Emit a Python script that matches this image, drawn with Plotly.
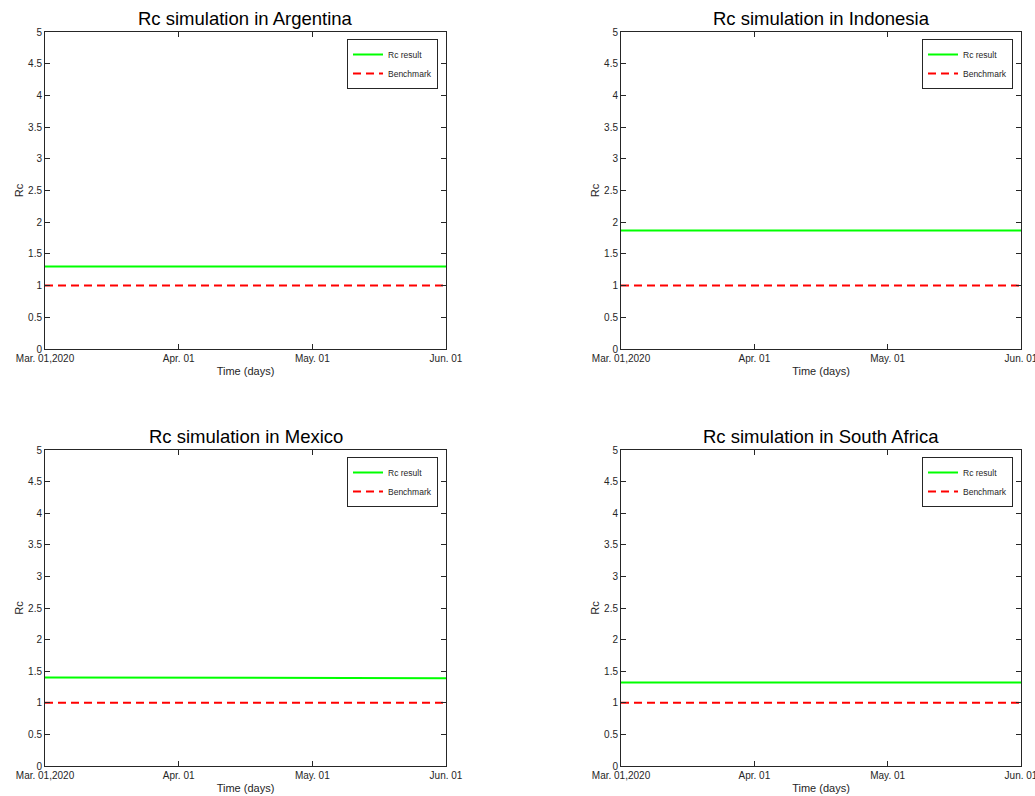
import plotly.graph_objects as go

countries = ["Argentina", "Indonesia", "Mexico", "South Africa"]
# day offsets from Mar. 01, 2020 (0 .. 92 = Jun. 01)
days = [0, 92]
rc_values = {
    "Argentina": [1.30, 1.30],
    "Indonesia": [1.87, 1.87],
    "Mexico": [1.40, 1.39],
    "South Africa": [1.32, 1.32],
}
benchmark = [1.0, 1.0]
x_tick_vals = [0, 30.67, 61.33, 92]
x_tick_text = ["Mar. 01,2020", "Apr. 01", "May. 01", "Jun. 01"]
y_tick_vals = [0, 0.5, 1, 1.5, 2, 2.5, 3, 3.5, 4, 4.5, 5]
y_tick_text = ["0", "0.5", "1", "1.5", "2", "2.5", "3", "3.5", "4", "4.5", "5"]

W, H = 1035, 796
panels = [
    (45, 446, 32, 349),
    (621, 1021, 32, 349),
    (45, 446, 450, 766),
    (621, 1021, 450, 766),
]

FONT = "Liberation Sans, Arial, Helvetica, sans-serif"
fig = go.Figure()
layout = dict(
    width=W, height=H, margin=dict(l=0, r=0, t=0, b=0, pad=0, autoexpand=False),
    paper_bgcolor="white", plot_bgcolor="white",
    font=dict(family=FONT, color="#262626"),
    annotations=[],
)

def px(v):
    return v / W

def py(v):
    return 1 - v / H

for i, c in enumerate(countries):
    x0, x1, y0, y1 = panels[i]
    n = "" if i == 0 else str(i + 1)
    leg = "legend" + n
    fig.add_trace(go.Scatter(
        x=days, y=rc_values[c], mode="lines", name="Rc result",
        line=dict(color="#00FF00", width=2),
        xaxis="x" + n, yaxis="y" + n, legend=leg,
    ))
    fig.add_trace(go.Scatter(
        x=days, y=benchmark, mode="lines", name="Benchmark",
        line=dict(color="#FF0000", width=2, dash="8px,5px"),
        xaxis="x" + n, yaxis="y" + n, legend=leg,
    ))
    axcommon = dict(
        showgrid=False, zeroline=False, showline=True, linecolor="#262626",
        linewidth=1, mirror="ticks", ticks="inside", ticklen=5,
        tickcolor="#262626", tickfont=dict(size=10, family=FONT, color="#262626"),
        automargin=False, ticklabeloverflow="allow",
    )
    layout["xaxis" + n] = dict(
        axcommon, domain=[px(x0), px(x1)], anchor="y" + n,
        range=[0, 92], tickmode="array", tickvals=x_tick_vals, ticktext=x_tick_text,
        title=dict(text="Time (days)", font=dict(size=11, family=FONT, color="#262626"), standoff=4),
    )
    layout["yaxis" + n] = dict(
        axcommon, domain=[py(y1), py(y0)], anchor="x" + n,
        range=[0, 5], tickmode="array", tickvals=y_tick_vals, ticktext=y_tick_text,
        title=dict(text="Rc", font=dict(size=11, family=FONT, color="#262626"), standoff=2),
    )
    layout[leg] = dict(
        x=px(x1 - 8), y=py(y0 + 7), xanchor="right", yanchor="top",
        bgcolor="white", bordercolor="#262626", borderwidth=1,
        font=dict(size=8.5, family=FONT, color="#262626"),
        itemwidth=30, tracegroupgap=0,
    )
    layout["annotations"].append(dict(
        text="Rc simulation in " + c, x=px((x0 + x1) / 2), y=py(y0 - 1),
        xref="paper", yref="paper", xanchor="center", yanchor="bottom",
        showarrow=False, font=dict(size=18.5, family=FONT, color="black"),
    ))

fig.update_layout(**layout)
fig.write_html(
    "out.html",
    config={"displayModeBar": False},
    post_script="document.body.style.margin='0px';document.body.style.overflow='hidden';",
)
